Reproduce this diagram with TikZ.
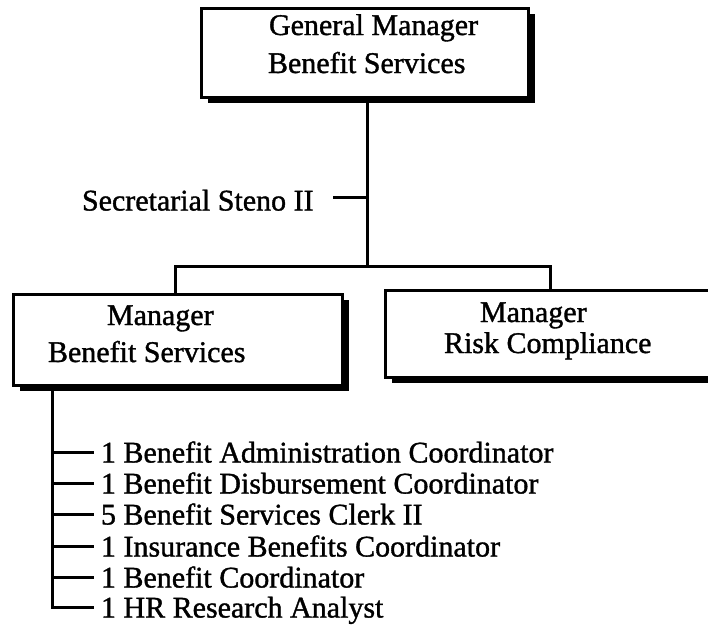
\documentclass[tikz,border=0pt]{standalone}
\usepackage{fontspec}
\setmainfont{Liberation Serif}[FakeBold=1.2]
\usetikzlibrary{shadows}
\begin{document}
\begin{tikzpicture}[x=1pt,y=-1pt,
  orgbox/.style={draw, line width=3pt, fill=white, rectangle, inner sep=0pt, outer sep=0pt, anchor=north west,
    drop shadow={shadow xshift=6.5pt, shadow yshift=-5.5pt, fill=black, opacity=1}},
  lbl/.style={inner sep=0pt, outer sep=0pt, font=\fontsize{30}{36}\selectfont, anchor=base west},
  item/.style={inner sep=0pt, outer sep=0pt, font=\fontsize{30}{36}\selectfont, anchor=west, text height=21pt, text depth=0pt},
  conn/.style={line width=3pt, line cap=rect}
]
\useasboundingbox (0,0) rectangle (708,630);
\clip (0,0) rectangle (708,630);
\fill[white] (0,0) rectangle (708,630);

% boxes
\node[orgbox, minimum width=327pt, minimum height=89pt] (top) at (201,8) {};
\node[orgbox, minimum width=329pt, minimum height=91pt] (lbox) at (13,294) {};
\node[orgbox, minimum width=335pt, minimum height=87pt] (rbox) at (385,290) {};

% box texts
\node[lbl] (t1) at (269,35) {General Manager};
\node[lbl] (t2) at (268,73) {Benefit Services};
\node[lbl] (l1) at (107,325) {Manager};
\node[lbl] (l2) at (48,362) {Benefit Services};
\node[lbl] (r1) at (480,322) {Manager};
\node[lbl] (r2) at (444,353) {Risk Compliance};

% secretarial
\node[item] (sec) at (82,200) {Secretarial Steno II};

% coordinates for connectors
\coordinate (junction) at (367,266);
\coordinate (hl) at (175,266);
\coordinate (hr) at (550,266);
\coordinate (spine) at (52,385);
\coordinate (secend) at ([xshift=21pt, yshift=3pt]sec.east);

\draw[conn] (junction |- top.south) -- (junction);
\draw[conn] (hl |- lbox.north) -- (hl) -- (hr) -- (hr |- rbox.north);
\draw[conn] (secend) -- (secend -| junction);

% staff list
\node[item] (s1) at (101,452) {1 Benefit Administration Coordinator};
\node[item] (s2) at (101,483) {1 Benefit Disbursement Coordinator};
\node[item] (s3) at (101,514) {5 Benefit Services Clerk II};
\node[item] (s4) at (101,546) {1 Insurance Benefits Coordinator};
\node[item] (s5) at (101,577) {1 Benefit Coordinator};
\node[item] (s6) at (101,607) {1 HR Research Analyst};

\draw[conn] (spine |- lbox.south) -- (spine |- s6.west);
\foreach \s in {s1,s2,s3,s4,s5,s6}{
  \draw[conn] (spine |- \s.west) -- ([xshift=-9pt]\s.west);
}
\end{tikzpicture}
\end{document}
